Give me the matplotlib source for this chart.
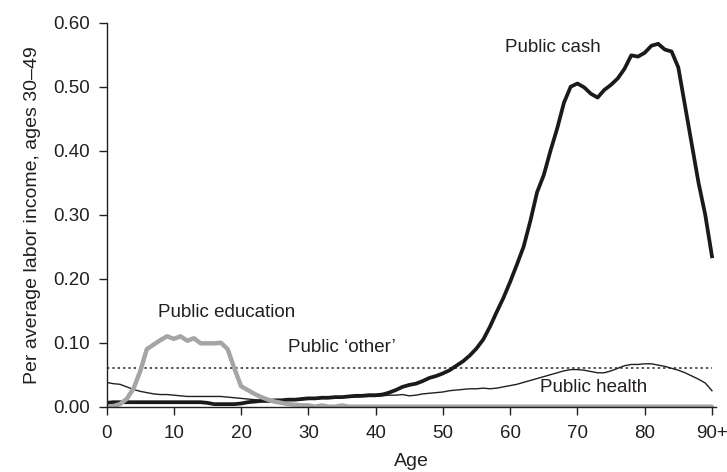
import matplotlib
matplotlib.use("Agg")
import matplotlib.pyplot as plt
import numpy as np

plt.rcParams['font.family'] = ['Liberation Sans', 'DejaVu Sans']

ages = list(range(0, 91))

public_cash = [0.006, 0.007, 0.007, 0.007, 0.007, 0.007, 0.007, 0.007, 0.007, 0.007,
               0.007, 0.007, 0.007, 0.007, 0.007, 0.006, 0.004, 0.004, 0.004, 0.004,
               0.005, 0.007, 0.008, 0.009, 0.009, 0.010, 0.010, 0.011, 0.011, 0.012,
               0.013, 0.013, 0.014, 0.014, 0.015, 0.015, 0.016, 0.017, 0.017, 0.018,
               0.018, 0.019, 0.022, 0.026, 0.031, 0.034, 0.036, 0.040, 0.045, 0.048,
               0.052, 0.057, 0.064, 0.071, 0.080, 0.091, 0.105, 0.125, 0.148, 0.170,
               0.195, 0.222, 0.250, 0.290, 0.335, 0.362, 0.400, 0.435, 0.475, 0.500,
               0.505, 0.499, 0.489, 0.483, 0.495, 0.503, 0.513, 0.528, 0.549, 0.547,
               0.553, 0.564, 0.567, 0.558, 0.555, 0.530, 0.470, 0.410, 0.350, 0.300,
               0.235]

public_education = [0.000, 0.001, 0.004, 0.012, 0.028, 0.055, 0.090, 0.097, 0.104, 0.110,
                    0.106, 0.110, 0.103, 0.107, 0.099, 0.099, 0.099, 0.100, 0.090, 0.060,
                    0.032, 0.026, 0.020, 0.015, 0.011, 0.008, 0.006, 0.004, 0.003, 0.002,
                    0.002, 0.000, 0.002, 0.000, 0.000, 0.002, 0.000, 0.000, 0.000, 0.000,
                    0.000, 0.000, 0.000, 0.000, 0.000, 0.000, 0.000, 0.000, 0.000, 0.000,
                    0.000, 0.000, 0.000, 0.000, 0.000, 0.000, 0.000, 0.000, 0.000, 0.000,
                    0.000, 0.000, 0.000, 0.000, 0.000, 0.000, 0.000, 0.000, 0.000, 0.000,
                    0.000, 0.000, 0.000, 0.000, 0.000, 0.000, 0.000, 0.000, 0.000, 0.000,
                    0.000, 0.000, 0.000, 0.000, 0.000, 0.000, 0.000, 0.000, 0.000, 0.000,
                    0.000]

public_health = [0.038, 0.036, 0.035, 0.031, 0.027, 0.024, 0.022, 0.020, 0.019, 0.019,
                 0.018, 0.017, 0.016, 0.016, 0.016, 0.016, 0.016, 0.016, 0.015, 0.014,
                 0.013, 0.012, 0.011, 0.010, 0.010, 0.010, 0.010, 0.010, 0.011, 0.011,
                 0.012, 0.012, 0.013, 0.013, 0.014, 0.014, 0.015, 0.015, 0.016, 0.016,
                 0.016, 0.017, 0.018, 0.018, 0.019, 0.017, 0.018, 0.020, 0.021, 0.022,
                 0.023, 0.025, 0.026, 0.027, 0.028, 0.028, 0.029, 0.028, 0.029, 0.031,
                 0.033, 0.035, 0.038, 0.041, 0.044, 0.047, 0.050, 0.053, 0.056, 0.058,
                 0.058, 0.057, 0.055, 0.053, 0.053, 0.056, 0.060, 0.064, 0.066, 0.066,
                 0.067, 0.067, 0.065, 0.063, 0.060, 0.057, 0.053, 0.048, 0.043, 0.037,
                 0.025]

public_other = [0.060] * len(ages)

xtick_vals = [0, 10, 20, 30, 40, 50, 60, 70, 80, 90]
xtick_labels = ['0', '10', '20', '30', '40', '50', '60', '70', '80', '90+']
ytick_vals = [0.0, 0.1, 0.2, 0.3, 0.4, 0.5, 0.6]

txt = '#231f20'

fig = plt.figure(figsize=(7.27, 4.72), dpi=100)
ax = fig.add_axes([106.5 / 727, 1 - 406.7 / 472, (716 - 106.5) / 727, (406.7 - 22.7) / 472])

ax.plot(ages, public_other, color='#231f20', lw=1.1, linestyle=(0, (1.5, 2.0)))
ax.plot(ages, public_health, color='#231f20', lw=1.0)
ax.plot(ages, public_cash, color='#1a1a1a', lw=2.7, solid_joinstyle='round')
ax.plot(ages, public_education, color='#a5a5a5', lw=3.2, solid_joinstyle='round',
        solid_capstyle='round')

ax.set_xlim(0, 90.6)
ax.set_ylim(0, 0.6)
ax.set_xticks(xtick_vals)
ax.set_xticklabels(xtick_labels)
ax.set_yticks(ytick_vals)
ax.set_yticklabels([f'{v:.2f}' for v in ytick_vals])

for s in ['top', 'right']:
    ax.spines[s].set_visible(False)
for s in ['left', 'bottom']:
    ax.spines[s].set_color('#231f20')
    ax.spines[s].set_linewidth(1.0)

ax.tick_params(axis='both', direction='out', length=6, width=1.0, colors='#231f20',
               labelsize=13.5, labelcolor=txt)
ax.tick_params(axis='y', pad=6)
ax.tick_params(axis='x', pad=7)

ax.set_xlabel('Age', fontsize=14, color=txt, labelpad=8)
ax.set_ylabel('Per average labor income, ages 30\u201349', fontsize=14, color=txt, labelpad=9)

ax.text(59.3, 0.561, 'Public cash', fontsize=13.5, color=txt, va='center', ha='left')
ax.text(7.6, 0.147, 'Public education', fontsize=13.5, color=txt, va='center', ha='left')
ax.text(27.0, 0.093, 'Public \u2018other\u2019', fontsize=13.5, color=txt, va='center', ha='left')
ax.text(64.5, 0.030, 'Public health', fontsize=13.5, color=txt, va='center', ha='left')

fig.savefig('out.png', dpi=100)
